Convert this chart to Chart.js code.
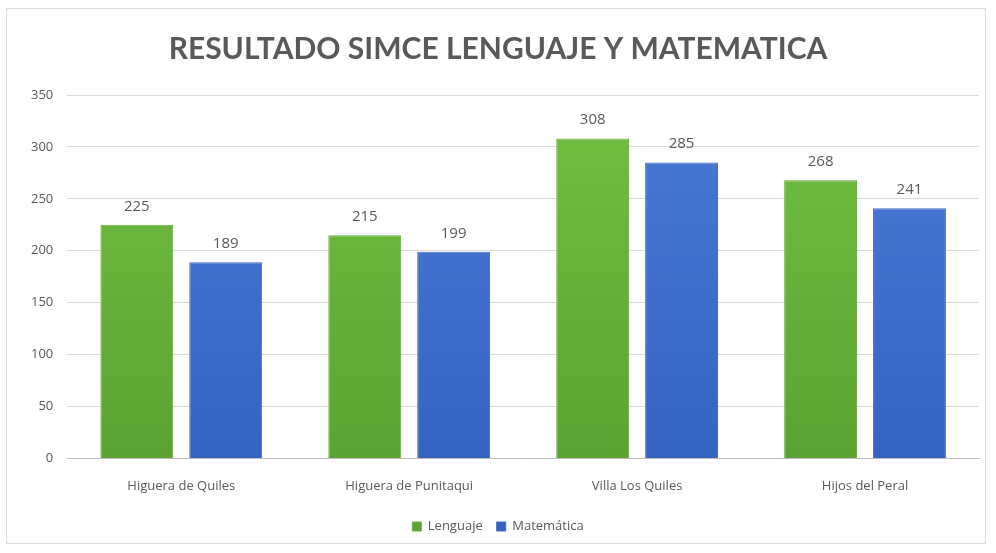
<!DOCTYPE html>
<html>
<head>
<meta charset="utf-8">
<script src="https://cdn.jsdelivr.net/npm/chart.js@4.4.1/dist/chart.umd.min.js"></script>
<style>
  html, body { margin: 0; padding: 0; background: #fff; }
  #wrap { position: absolute; left: 6px; top: 8px; width: 980px; height: 536px; border: 1px solid #d9d9d9; box-sizing: border-box; }
</style>
</head>
<body>
<div id="wrap"><canvas id="grafico"></canvas></div>
<script>
// dati
var colegios = ['Higuera de Quiles', 'Higuera de Punitaqui', 'Villa Los Quiles', 'Hijos del Peral'];
var lenguaje = [225, 215, 308, 268];
var matematica = [189, 199, 285, 241];
var ticksY = [0, 50, 100, 150, 200, 250, 300, 350];

function sfumatura(ctx, alto, basso) {
    var chart = ctx.chart;
    var area = chart.chartArea;
    if (!area) return alto;
    var g = chart.ctx.createLinearGradient(0, area.top, 0, area.bottom);
    g.addColorStop(0, alto);
    g.addColorStop(1, basso);
    return g;
}

// etichette sopra le barre
var etichette = {
    id: 'etichette',
    afterDatasetsDraw: function (chart) {
        var c = chart.ctx;
        c.save();
        c.font = '15px "Open Sans"';
        c.fillStyle = '#595959';
        c.textAlign = 'center';
        c.textBaseline = 'bottom';
        chart.data.datasets.forEach(function (ds, i) {
            chart.getDatasetMeta(i).data.forEach(function (bar, j) {
                c.fillText(ds.data[j], bar.x, bar.y - 11);
            });
        });
        c.restore();
    }
};

var ctx = document.getElementById('grafico');
var chart = new Chart(ctx, {
    type: 'bar',
    data: {
        labels: colegios,
        datasets: [{
            label: 'Lenguaje',
            data: lenguaje,
            backgroundColor: function (c) { return sfumatura(c, '#72c043', '#5aa332'); },
            borderColor: '#6aae3e',
            borderWidth: 1
        }, {
            label: 'Matemática',
            data: matematica,
            backgroundColor: function (c) { return sfumatura(c, '#4a79d6', '#3563c2'); },
            borderColor: '#3f6cc9',
            borderWidth: 1
        }]
    },
    options: {
        responsive: true,
        maintainAspectRatio: false,
        animation: false,
        layout: { padding: { left: 10, right: 6, top: 4, bottom: 0 } },
        datasets: { bar: { categoryPercentage: 0.78, barPercentage: 0.82 } },
        plugins: {
            title: {
                display: true,
                text: 'RESULTADO SIMCE LENGUAJE Y MATEMATICA',
                color: '#595959',
                font: { family: 'Lato', size: 30, weight: 'bold' },
                padding: { top: 18, bottom: 28 }
            },
            legend: {
                position: 'bottom',
                labels: {
                    color: '#595959',
                    font: { family: 'Open Sans', size: 13 },
                    boxWidth: 9,
                    boxHeight: 9,
                    padding: 14
                }
            },
            tooltip: { enabled: false }
        },
        scales: {
            x: {
                grid: { display: false },
                border: { color: '#bfbfbf' },
                ticks: { color: '#595959', font: { family: 'Open Sans', size: 13 }, padding: 12 }
            },
            y: {
                min: 0,
                max: 350,
                afterBuildTicks: function (axis) {
                    axis.ticks = ticksY.map(function (v) { return { value: v }; });
                },
                grid: { color: '#d9d9d9', drawTicks: false },
                border: { display: false },
                ticks: { color: '#595959', font: { family: 'Open Sans', size: 13 }, padding: 14 }
            }
        }
    },
    plugins: [etichette]
});
</script>
</body>
</html>
